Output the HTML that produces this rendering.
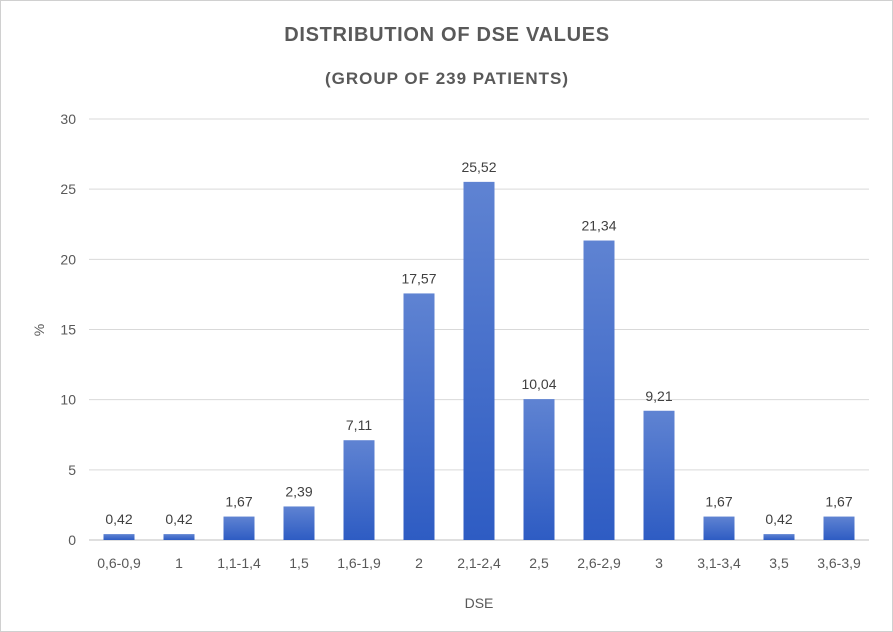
<!DOCTYPE html>
<html><head><meta charset="utf-8"><style>
body{margin:0;background:#fff}
svg{display:block;font-family:"Liberation Sans",sans-serif}
</style></head><body>
<svg id="c" width="893" height="632">
<defs><linearGradient id="g" x1="0" y1="0" x2="0" y2="1"><stop offset="0" stop-color="#5f83d2"/><stop offset="1" stop-color="#2e5cc3"/></linearGradient></defs>
<rect x="0.5" y="0.5" width="892" height="631" fill="#fff" stroke="#d0d0d0"/>
<text x="447" y="41" text-anchor="middle" font-size="20" font-weight="bold" fill="#595959" letter-spacing="0.7">DISTRIBUTION OF DSE VALUES</text>
<text x="447" y="84" text-anchor="middle" font-size="17" font-weight="bold" fill="#595959" letter-spacing="1">(GROUP OF 239 PATIENTS)</text>
<text transform="translate(44,330) rotate(-90)" text-anchor="middle" font-size="14" fill="#595959">%</text>
<text x="479" y="608" text-anchor="middle" font-size="14" fill="#595959">DSE</text>
<g id="grid"></g><g id="bars"></g>
</svg>
<script>
const categories=["0,6-0,9","1","1,1-1,4","1,5","1,6-1,9","2","2,1-2,4","2,5","2,6-2,9","3","3,1-3,4","3,5","3,6-3,9"];
const values=[0.42,0.42,1.67,2.39,7.11,17.57,25.52,10.04,21.34,9.21,1.67,0.42,1.67];
const labels=["0,42","0,42","1,67","2,39","7,11","17,57","25,52","10,04","21,34","9,21","1,67","0,42","1,67"];
const yTicks=[0,5,10,15,20,25,30];
const L=89,R=869,T=119,B=540,yMax=30;
const y=v=>B-(v/yMax)*(B-T);
const step=(R-L)/categories.length;
const x=i=>L+step*(i+0.5);
const NS="http://www.w3.org/2000/svg";
const grid=document.getElementById('grid'),bars=document.getElementById('bars');
function mk(tag,attrs,p,txt){const e=document.createElementNS(NS,tag);for(const k in attrs)e.setAttribute(k,attrs[k]);if(txt!=null)e.textContent=txt;p.appendChild(e);return e;}
yTicks.forEach(t=>{
 const l=mk('line',{x1:L,x2:R,y1:y(t),y2:y(t),stroke:t===0?'#bfbfbf':'#d9d9d9','stroke-width':1},grid);
 
 
 const tx=mk('text',{x:76,y:y(t)+5,'text-anchor':'end','font-size':14,fill:'#595959'},grid,String(t));
 
 
});
categories.forEach((c,i)=>{
 const w=31;
 const r=mk('rect',{x:x(i)-w/2,y:y(values[i]),width:w,height:B-y(values[i]),fill:'url(#g)'},bars);
 
 
 const v=mk('text',{x:x(i),y:y(values[i])-10,'text-anchor':'middle','font-size':14,fill:'#404040'},bars,labels[i]);
 
 
 const cl=mk('text',{x:x(i),y:568,'text-anchor':'middle','font-size':14,fill:'#595959'},bars,c);
 
 
});
</script>
</body></html>
